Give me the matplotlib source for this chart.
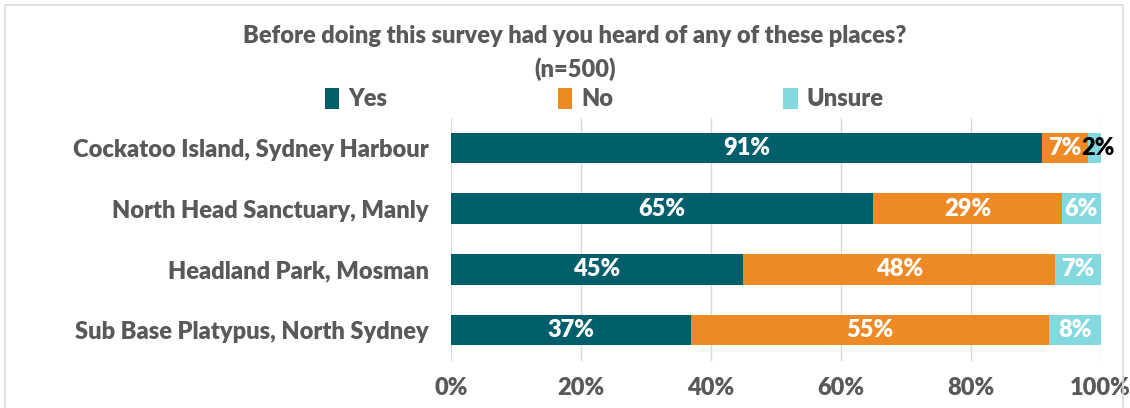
import matplotlib
matplotlib.use("Agg")
import matplotlib.pyplot as plt
import numpy as np
from matplotlib.patches import Rectangle

plt.rcParams['font.family'] = ['Lato', 'DejaVu Sans']

places = ["Cockatoo Island, Sydney Harbour",
          "North Head Sanctuary, Manly",
          "Headland Park, Mosman",
          "Sub Base Platypus, North Sydney"]
yes = [91, 65, 45, 37]
no = [7, 29, 48, 55]
unsure = [2, 6, 7, 8]
series_names = ["Yes", "No", "Unsure"]
colors = ["#005F6B", "#ED8A26", "#84D9E0"]
ticks = [0, 20, 40, 60, 80, 100]

grey = "#595959"
fs = 17
wt = "heavy"

fig = plt.figure(figsize=(11.3, 4.08), dpi=100)
ax = fig.add_axes([0.399, 0.116, 0.575, 0.596])

y = np.arange(len(places))
left = np.zeros(len(places))
for name, vals, c in zip(series_names, [yes, no, unsure], colors):
    ax.barh(y, vals, left=left, height=0.5, color=c, label=name, zorder=3)
    for i, (v, l) in enumerate(zip(vals, left)):
        txt_col = "white"
        xpos = l + v / 2
        if name == "Unsure" and v < 5:
            # small segment: label sits in black, nudged outwards
            txt_col = "black"
            xpos += 0.6
        ax.text(xpos, i, f"{v}%", ha="center", va="center",
                color=txt_col, fontsize=fs, fontweight=wt, zorder=4)
    left = left + np.array(vals)

ax.set_ylim(len(places) - 0.5, -0.5)
ax.set_xlim(0, 100)
ax.set_yticks(y)
ax.set_yticklabels(places, fontsize=fs, fontweight=wt, color=grey)
ax.set_xticks(ticks)
ax.set_xticklabels([f"{t}%" for t in ticks], fontsize=fs, fontweight=wt, color=grey)
ax.tick_params(length=0, pad=16, axis="y")
ax.tick_params(length=0, pad=12, axis="x")
ax.grid(axis="x", color="#D9D9D9", linewidth=1, zorder=0)
for s in ax.spines.values():
    s.set_visible(False)

fig.text(0.509, 0.912, "Before doing this survey had you heard of any of these places?",
         ha="center", va="center", fontsize=fs, fontweight=wt, color=grey)
fig.text(0.509, 0.830, "(n=500)", ha="center", va="center",
         fontsize=fs, fontweight=wt, color=grey)

fig.legend(loc="center", bbox_to_anchor=(0.535, 0.757), ncol=3, frameon=False,
           prop={"weight": wt, "size": fs},
           handlelength=0.6, handleheight=1.0, columnspacing=7.2, handletextpad=0.4,
           labelcolor=grey)

fig.patches.append(Rectangle((0.004, -0.1), 0.99, 1.088, transform=fig.transFigure,
                             fill=False, edgecolor="#D9D9D9", linewidth=1.2))

fig.savefig("out.png", dpi=100)
